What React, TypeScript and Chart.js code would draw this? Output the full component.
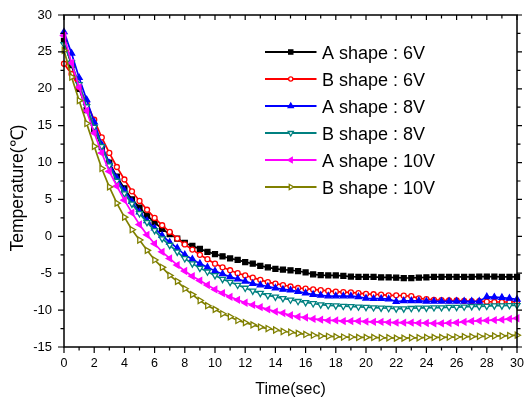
import React, { useEffect, useRef } from 'react';
import { Chart, registerables } from 'chart.js';
import { drawPoint } from 'chart.js/helpers';

Chart.register(...registerables);

const TIME = [
  0, 0.5, 1, 1.5, 2, 2.5, 3, 3.5, 4, 4.5,
  5, 5.5, 6, 6.5, 7, 7.5, 8, 8.5, 9, 9.5,
  10, 10.5, 11, 11.5, 12, 12.5, 13, 13.5, 14, 14.5,
  15, 15.5, 16, 16.5, 17, 17.5, 18, 18.5, 19, 19.5,
  20, 20.5, 21, 21.5, 22, 22.5, 23, 23.5, 24, 24.5,
  25, 25.5, 26, 26.5, 27, 27.5, 28, 28.5, 29, 29.5,
  30,
];

const A_6V = [
  26.5, 23.2, 20.0, 17.1, 14.5, 12.1, 10.0, 8.1, 6.5, 5.0,
  3.9, 2.8, 1.9, 1.0, 0.3, -0.3, -0.9, -1.3, -1.7, -2.1,
  -2.4, -2.7, -3.0, -3.2, -3.5, -3.7, -4.0, -4.2, -4.4, -4.5,
  -4.6, -4.7, -4.9, -5.15, -5.25, -5.3, -5.3, -5.35, -5.45, -5.5,
  -5.5, -5.5, -5.55, -5.55, -5.6, -5.65, -5.65, -5.6, -5.55, -5.5,
  -5.5, -5.5, -5.5, -5.5, -5.5, -5.45, -5.45, -5.45, -5.5, -5.5,
  -5.5,
];

const B_6V = [
  23.4, 22.0, 20.2, 18.1, 15.8, 13.4, 11.3, 9.4, 7.7, 6.1,
  4.8, 3.6, 2.5, 1.5, 0.6, -0.3, -1.1, -1.8, -2.5, -3.1,
  -3.7, -4.2, -4.6, -5.0, -5.3, -5.6, -5.9, -6.2, -6.4, -6.6,
  -6.8, -7.0, -7.1, -7.2, -7.3, -7.4, -7.5, -7.55, -7.6, -7.7,
  -7.8, -7.85, -7.9, -8.0, -8.0, -8.05, -8.1, -8.4, -8.5, -8.6,
  -8.65, -8.7, -8.7, -8.75, -8.8, -8.8, -8.85, -8.9, -8.9, -8.9,
  -8.85,
];

const A_8V = [
  27.7, 24.8, 21.5, 18.5, 15.5, 12.4, 9.9, 7.9, 6.2, 4.7,
  3.3, 2.1, 1.1, 0.1, -0.8, -1.6, -2.5, -3.1, -3.7, -4.2,
  -4.7, -5.1, -5.5, -5.8, -6.1, -6.4, -6.6, -6.8, -7.0, -7.2,
  -7.3, -7.5, -7.7, -7.9, -8.0, -8.1, -8.1, -8.1, -8.1, -8.2,
  -8.4, -8.45, -8.45, -8.5, -8.85, -8.75, -8.75, -8.75, -8.8, -8.8,
  -8.8, -8.8, -8.8, -8.8, -8.8, -8.8, -8.2, -8.25, -8.3, -8.4,
  -8.55,
];

const B_8V = [
  26.0, 23.5, 20.6, 17.6, 14.8, 12.2, 9.6, 7.5, 5.8, 4.4,
  3.1, 1.9, 0.8, -0.3, -1.2, -2.1, -3.0, -3.7, -4.3, -4.8,
  -5.3, -5.8, -6.2, -6.6, -7.0, -7.4, -7.7, -8.0, -8.2, -8.4,
  -8.6, -8.8, -8.95, -9.1, -9.25, -9.35, -9.4, -9.45, -9.5, -9.55,
  -9.6, -9.65, -9.7, -9.75, -9.8, -9.8, -9.75, -9.7, -9.7, -9.65,
  -9.65, -9.6, -9.6, -9.55, -9.5, -9.5, -9.45, -9.4, -9.4, -9.35,
  -9.35,
];

const A_10V = [
  27.2, 23.5, 20.2, 17.0, 14.0, 11.3, 8.8, 6.8, 4.9, 3.2,
  1.6, 0.2, -1.0, -2.1, -3.0, -3.9, -4.7, -5.4, -6.0, -6.6,
  -7.2, -7.7, -8.2, -8.6, -9.0, -9.3, -9.6, -9.9, -10.2, -10.4,
  -10.7, -10.9, -11.0, -11.2, -11.3, -11.4, -11.4, -11.5, -11.5, -11.5,
  -11.55, -11.6, -11.6, -11.65, -11.7, -11.7, -11.7, -11.75, -11.75, -11.8,
  -11.8, -11.75, -11.7, -11.6, -11.5, -11.45, -11.4, -11.35, -11.3, -11.2,
  -11.1,
];

const B_10V = [
  25.2, 21.6, 18.4, 15.3, 12.2, 9.2, 6.7, 4.5, 2.6, 0.9,
  -0.5, -1.9, -3.2, -4.2, -5.3, -6.1, -7.1, -7.9, -8.7, -9.4,
  -9.9, -10.5, -10.9, -11.4, -11.7, -12.0, -12.3, -12.5, -12.7, -12.9,
  -13.0, -13.15, -13.3, -13.4, -13.5, -13.55, -13.6, -13.65, -13.65, -13.7,
  -13.7, -13.7, -13.75, -13.75, -13.8, -13.8, -13.75, -13.75, -13.7, -13.7,
  -13.7, -13.65, -13.65, -13.6, -13.6, -13.55, -13.55, -13.5, -13.5, -13.45,
  -13.4,
];

const SERIES_LABELS = [
  'A shape : 6V',
  'B shape : 6V',
  'A shape : 8V',
  'B shape : 8V',
  'A shape : 10V',
  'B shape : 10V',
];

const X_TITLE = 'Time(sec)';
const Y_TITLE = 'Temperature(℃)';
const FONT = 'Arial, "Liberation Sans", sans-serif';

type Style = { color: string; shape: string; rot: number; filled: boolean; r: number };
const STYLES: Style[] = [
  { color: '#000000', shape: 'rect', rot: 0, filled: true, r: 3.5 },
  { color: '#FF0000', shape: 'circle', rot: 0, filled: false, r: 2.5 },
  { color: '#0000FF', shape: 'triangle', rot: 0, filled: true, r: 3.5 },
  { color: '#008080', shape: 'triangle', rot: 180, filled: false, r: 3.5 },
  { color: '#FF00FF', shape: 'triangle', rot: -90, filled: true, r: 3.5 },
  { color: '#808000', shape: 'triangle', rot: 90, filled: false, r: 3.5 },
];

const frameAndLegend = {
  id: 'frameAndLegend',
  afterDraw(chart: any) {
    const ctx = chart.ctx as CanvasRenderingContext2D;
    const { left, right, top, bottom } = chart.chartArea;
    const xs = chart.scales.x;
    const ys = chart.scales.y;
    ctx.save();
    ctx.strokeStyle = '#000';
    ctx.lineWidth = 1.5;
    ctx.strokeRect(left, top, right - left, bottom - top);
    ctx.lineWidth = 1.2;
    ctx.beginPath();
    for (let v = 0; v <= 30; v += 1) {
      const px = xs.getPixelForValue(v);
      const major = v % 2 === 0;
      const len = major ? 6 : 3.5;
      ctx.moveTo(px, bottom);
      ctx.lineTo(px, bottom + len);
      ctx.moveTo(px, top);
      ctx.lineTo(px, top + (major ? 5 : 3.5));
    }
    for (let v = -15; v <= 30; v += 2.5) {
      const py = ys.getPixelForValue(v);
      const major = v % 5 === 0;
      const len = major ? 6 : 3.5;
      ctx.moveTo(left, py);
      ctx.lineTo(left - len, py);
      ctx.moveTo(right, py);
      ctx.lineTo(right + (major ? 5 : 3.5), py);
    }
    ctx.stroke();

    // axis titles
    ctx.fillStyle = '#000';
    ctx.font = `16px ${FONT}`;
    ctx.textAlign = 'center';
    ctx.textBaseline = 'alphabetic';
    ctx.fillText(X_TITLE, (left + right) / 2, 394);
    ctx.save();
    ctx.font = `17.5px ${FONT}`;
    ctx.translate(23, 188);
    ctx.rotate(-Math.PI / 2);
    ctx.fillText(Y_TITLE, 0, 0);
    ctx.restore();

    // legend
    ctx.font = `18px ${FONT}`;
    ctx.textAlign = 'left';
    const x0 = right - 252;
    const x1 = right - 200.5;
    const tx = right - 195;
    STYLES.forEach((s, i) => {
      const y = top + 37 + i * 27;
      ctx.strokeStyle = s.color;
      ctx.lineWidth = 2;
      ctx.beginPath();
      ctx.moveTo(x0, y);
      ctx.lineTo(x1, y);
      ctx.stroke();
      ctx.fillStyle = s.filled ? s.color : '#fff';
      ctx.lineWidth = 1.3;
      drawPoint(ctx, { pointStyle: s.shape as any, rotation: s.rot, radius: s.r * 0.85, borderWidth: 1.3 }, (x0 + x1) / 2, y);
      ctx.fillStyle = '#000';
      ctx.fillText(SERIES_LABELS[i], tx, y + 6.5);
    });
    ctx.restore();
  },
};

export default function App() {
  const ref = useRef<HTMLCanvasElement>(null);
  useEffect(() => {
    if (!ref.current) return;
    const values = [A_6V, B_6V, A_8V, B_8V, A_10V, B_10V];
    const datasets = values.map((vals, i) => {
      const s = STYLES[i];
      return {
        label: SERIES_LABELS[i],
        data: vals.map((v, j) => ({ x: TIME[j], y: v })),
        borderColor: s.color,
        backgroundColor: s.filled ? s.color : '#ffffff',
        borderWidth: 1.7,
        pointStyle: s.shape,
        pointRotation: s.rot,
        pointRadius: s.r,
        pointBorderWidth: 1.3,
        pointBackgroundColor: s.filled ? s.color : '#ffffff',
        pointBorderColor: s.color,
        tension: 0,
        clip: false,
        order: 6 - i,
      };
    });
    const chart = new Chart(ref.current, {
      type: 'line',
      data: { datasets: datasets as any },
      options: {
        animation: false,
        responsive: false,
        maintainAspectRatio: false,
        layout: { padding: { top: 15, right: 8, left: 0, bottom: 0 } },
        plugins: { legend: { display: false }, tooltip: { enabled: false } },
        scales: {
          x: {
            type: 'linear',
            min: 0,
            max: 30,
            grid: { display: false, drawTicks: false },
            border: { display: false },
            ticks: { stepSize: 2, color: '#000', font: { family: FONT, size: 12.5 }, padding: 9, maxRotation: 0, autoSkip: false },
            afterFit: (s: any) => { s.height = 55; s.paddingLeft = 0; s.paddingRight = 0; },
          },
          y: {
            type: 'linear',
            min: -15,
            max: 30,
            grid: { display: false, drawTicks: false },
            border: { display: false },
            ticks: { stepSize: 5, color: '#000', font: { family: FONT, size: 13 }, padding: 12, autoSkip: false },
            afterFit: (s: any) => { s.width = 64; s.paddingTop = 0; s.paddingBottom = 0; },
          },
        },
      },
      plugins: [frameAndLegend],
    });
    return () => chart.destroy();
  }, []);
  return (
    <div style={{ position: 'absolute', left: 0, top: 0, width: 525, height: 402, background: '#fff' }}>
      <canvas ref={ref} width={525} height={402} style={{ display: 'block' }} />
    </div>
  );
}
